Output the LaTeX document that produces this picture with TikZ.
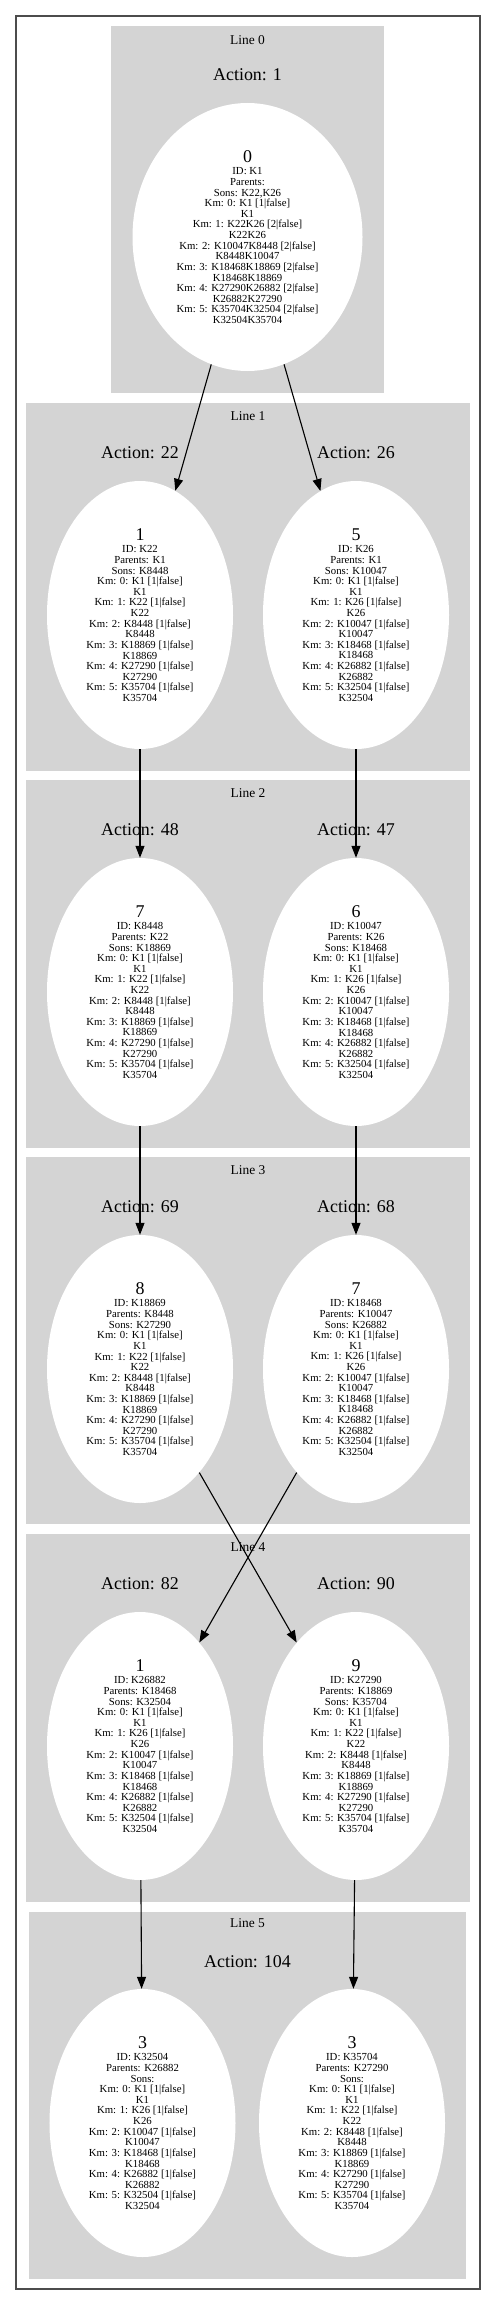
\documentclass[tikz,border=0pt]{standalone}
\usepackage{fontspec}
\setmainfont{Liberation Serif}
\usepackage{tikz}
\usetikzlibrary{shapes,arrows.meta,positioning}

\newcommand{\knum}[1]{{\fontsize{18}{18}\selectfont #1}}

\begin{document}
\begin{tikzpicture}[x=1bp, y=-1bp,
    cluster/.style={fill=black!17},
    km/.style={ellipse, fill=white, inner sep=0pt, minimum width=186bp, minimum height=268bp,
      align=center, font=\fontsize{10.8}{10.65}\selectfont},
    linelbl/.style={inner sep=0pt, font=\fontsize{13.5}{14}\selectfont},
    actlbl/.style={inner sep=0pt, font=\fontsize{18}{18}\selectfont},
    edge/.style={line width=1.1bp, -{Triangle[length=12bp, width=9bp]}}]
  \useasboundingbox (0,0) rectangle (496,2305);
  \draw[line width=2bp, black!70] (16,16) rectangle (480,2289);

  % lines (clusters)
  \fill[cluster] (111,26) rectangle (384,393);
  \fill[cluster] (26,403) rectangle (470,771);
  \fill[cluster] (26,780) rectangle (470,1148);
  \fill[cluster] (26,1157) rectangle (470,1524);
  \fill[cluster] (26,1534) rectangle (470,1902);
  \fill[cluster] (29,1912) rectangle (466,2279);

  \node[linelbl] (l0) at (247.5,40) {Line 0};
  \node[linelbl] (l1) at (248,416) {Line 1};
  \node[linelbl] (l2) at (248,793) {Line 2};
  \node[linelbl] (l3) at (248,1170) {Line 3};
  \node[linelbl] (l4) at (248,1547) {Line 4};
  \node[linelbl] (l5) at (247.5,1923) {Line 5};

  % line 0
  \node[km, minimum width=230bp] (n0) at (247.5,237) {\knum{0}\\[2bp]
    ID: K1\\ Parents:\\ Sons: K22,K26\\ Km: 0: K1 [1|false]\\ K1\\
    Km: 1: K22K26 [2|false]\\ K22K26\\ Km: 2: K10047K8448 [2|false]\\ K8448K10047\\
    Km: 3: K18468K18869 [2|false]\\ K18468K18869\\ Km: 4: K27290K26882 [2|false]\\ K26882K27290\\
    Km: 5: K35704K32504 [2|false]\\ K32504K35704};
  \node[actlbl, above=22bp of n0] (a0) {Action: 1};

  % line 1
  \node[km] (n1) at (140,615) {\knum{1}\\[2bp]
    ID: K22\\ Parents: K1\\ Sons: K8448\\ Km: 0: K1 [1|false]\\ K1\\
    Km: 1: K22 [1|false]\\ K22\\ Km: 2: K8448 [1|false]\\ K8448\\
    Km: 3: K18869 [1|false]\\ K18869\\ Km: 4: K27290 [1|false]\\ K27290\\
    Km: 5: K35704 [1|false]\\ K35704};
  \node[km] (n5) at (356,615) {\knum{5}\\[2bp]
    ID: K26\\ Parents: K1\\ Sons: K10047\\ Km: 0: K1 [1|false]\\ K1\\
    Km: 1: K26 [1|false]\\ K26\\ Km: 2: K10047 [1|false]\\ K10047\\
    Km: 3: K18468 [1|false]\\ K18468\\ Km: 4: K26882 [1|false]\\ K26882\\
    Km: 5: K32504 [1|false]\\ K32504};
  \node[actlbl, above=22bp of n1] (a22) {Action: 22};
  \node[actlbl, above=22bp of n5] (a26) {Action: 26};

  % line 2
  \node[km] (n7) at (140,992) {\knum{7}\\[2bp]
    ID: K8448\\ Parents: K22\\ Sons: K18869\\ Km: 0: K1 [1|false]\\ K1\\
    Km: 1: K22 [1|false]\\ K22\\ Km: 2: K8448 [1|false]\\ K8448\\
    Km: 3: K18869 [1|false]\\ K18869\\ Km: 4: K27290 [1|false]\\ K27290\\
    Km: 5: K35704 [1|false]\\ K35704};
  \node[km] (n6) at (356,992) {\knum{6}\\[2bp]
    ID: K10047\\ Parents: K26\\ Sons: K18468\\ Km: 0: K1 [1|false]\\ K1\\
    Km: 1: K26 [1|false]\\ K26\\ Km: 2: K10047 [1|false]\\ K10047\\
    Km: 3: K18468 [1|false]\\ K18468\\ Km: 4: K26882 [1|false]\\ K26882\\
    Km: 5: K32504 [1|false]\\ K32504};
  \node[actlbl, above=22bp of n7] (a48) {Action: 48};
  \node[actlbl, above=22bp of n6] (a47) {Action: 47};

  % line 3
  \node[km] (n8) at (140,1369) {\knum{8}\\[2bp]
    ID: K18869\\ Parents: K8448\\ Sons: K27290\\ Km: 0: K1 [1|false]\\ K1\\
    Km: 1: K22 [1|false]\\ K22\\ Km: 2: K8448 [1|false]\\ K8448\\
    Km: 3: K18869 [1|false]\\ K18869\\ Km: 4: K27290 [1|false]\\ K27290\\
    Km: 5: K35704 [1|false]\\ K35704};
  \node[km] (n7b) at (356,1369) {\knum{7}\\[2bp]
    ID: K18468\\ Parents: K10047\\ Sons: K26882\\ Km: 0: K1 [1|false]\\ K1\\
    Km: 1: K26 [1|false]\\ K26\\ Km: 2: K10047 [1|false]\\ K10047\\
    Km: 3: K18468 [1|false]\\ K18468\\ Km: 4: K26882 [1|false]\\ K26882\\
    Km: 5: K32504 [1|false]\\ K32504};
  \node[actlbl, above=22bp of n8] (a69) {Action: 69};
  \node[actlbl, above=22bp of n7b] (a68) {Action: 68};

  % line 4
  \node[km] (n1b) at (140,1746) {\knum{1}\\[2bp]
    ID: K26882\\ Parents: K18468\\ Sons: K32504\\ Km: 0: K1 [1|false]\\ K1\\
    Km: 1: K26 [1|false]\\ K26\\ Km: 2: K10047 [1|false]\\ K10047\\
    Km: 3: K18468 [1|false]\\ K18468\\ Km: 4: K26882 [1|false]\\ K26882\\
    Km: 5: K32504 [1|false]\\ K32504};
  \node[km] (n9) at (356,1746) {\knum{9}\\[2bp]
    ID: K27290\\ Parents: K18869\\ Sons: K35704\\ Km: 0: K1 [1|false]\\ K1\\
    Km: 1: K22 [1|false]\\ K22\\ Km: 2: K8448 [1|false]\\ K8448\\
    Km: 3: K18869 [1|false]\\ K18869\\ Km: 4: K27290 [1|false]\\ K27290\\
    Km: 5: K35704 [1|false]\\ K35704};
  \node[actlbl, above=22bp of n1b] (a82) {Action: 82};
  \node[actlbl, above=22bp of n9] (a90) {Action: 90};

  % line 5
  \node[km] (n3a) at (142.5,2123) {\knum{3}\\[2bp]
    ID: K32504\\ Parents: K26882\\ Sons:\\ Km: 0: K1 [1|false]\\ K1\\
    Km: 1: K26 [1|false]\\ K26\\ Km: 2: K10047 [1|false]\\ K10047\\
    Km: 3: K18468 [1|false]\\ K18468\\ Km: 4: K26882 [1|false]\\ K26882\\
    Km: 5: K32504 [1|false]\\ K32504};
  \node[km] (n3b) at (352,2123) {\knum{3}\\[2bp]
    ID: K35704\\ Parents: K27290\\ Sons:\\ Km: 0: K1 [1|false]\\ K1\\
    Km: 1: K22 [1|false]\\ K22\\ Km: 2: K8448 [1|false]\\ K8448\\
    Km: 3: K18869 [1|false]\\ K18869\\ Km: 4: K27290 [1|false]\\ K27290\\
    Km: 5: K35704 [1|false]\\ K35704};
  \node[actlbl] (a104) at (247.5,1962) {Action: 104};

  % edges
  \draw[edge] (n0) -- (n1);
  \draw[edge] (n0) -- (n5);
  \draw[edge] (n1) -- (n7);
  \draw[edge] (n5) -- (n6);
  \draw[edge] (n7) -- (n8);
  \draw[edge] (n6) -- (n7b);
  \draw[edge] (n8) -- (n9);
  \draw[edge] (n7b) -- (n1b);
  \draw[edge] (n1b) -- (n3a);
  \draw[edge] (n9) -- (n3b);
\end{tikzpicture}
\end{document}
